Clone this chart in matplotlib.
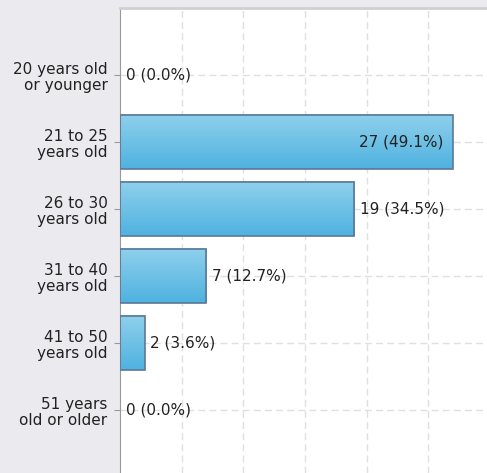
import numpy as np
import matplotlib.pyplot as plt
from matplotlib.colors import LinearSegmentedColormap

categories = ['20 years old\nor younger', '21 to 25\nyears old', '26 to 30\nyears old',
              '31 to 40\nyears old', '41 to 50\nyears old', '51 years\nold or older']
counts = [0, 27, 19, 7, 2, 0]
percents = [0.0, 49.1, 34.5, 12.7, 3.6, 0.0]

W, H = 487, 473
fig = plt.figure(figsize=(W / 100, H / 100), dpi=100)
fig.patch.set_facecolor('#ebebef')

# axes box in pixels: left 120, top 8, runs off right/bottom edge
ax = fig.add_axes([120 / W, 0, 1 - 120 / W, 1 - 8 / H])
ax.set_facecolor('white')

y = np.arange(len(categories))
widths = [1.2 if c > 0 else 0 for c in counts]
bars = ax.barh(y, counts, height=0.82, color='none', edgecolor='#5d7896',
               linewidth=widths, zorder=3)

# vertical gradient fill inside each bar
grad = LinearSegmentedColormap.from_list('bluegrad', ['#8fd0ec', '#4fb2e0'])
for b in bars:
    if b.get_width() <= 0:
        continue
    x0, y0 = b.get_x(), b.get_y()
    ax.imshow(np.linspace(0, 1, 64).reshape(-1, 1), cmap=grad, aspect='auto',
              extent=[x0, x0 + b.get_width(), y0 + b.get_height(), y0], zorder=2)

ax.set_xlim(0, 29.77)
ax.set_ylim(5.94, -1)

ax.set_xticks([5, 10, 15, 20, 25])
ax.set_yticks(y)
ax.set_yticklabels(categories, fontsize=11, color='#222222', linespacing=1.15)
ax.tick_params(axis='x', length=0, labelbottom=False)
ax.tick_params(axis='y', length=4, color='#999999', pad=5)
ax.grid(True, color='#e0e0e0', linestyle=(0, (5, 3)), linewidth=1, zorder=0)

for s in ['right', 'bottom']:
    ax.spines[s].set_visible(False)
ax.spines['left'].set_color('#999999')
ax.spines['top'].set_color('#cfcfd4')
ax.spines['top'].set_linewidth(2)

top = max(counts)
for yi, c, p in zip(y, counts, percents):
    txt = f'{c} ({p:.1f}%)'
    if c == top:
        ax.annotate(txt, (c, yi), xytext=(-7, 0), textcoords='offset points',
                    ha='right', va='center', fontsize=11, color='#222222', zorder=4)
    else:
        ax.annotate(txt, (c, yi), xytext=(4, 0), textcoords='offset points',
                    ha='left', va='center', fontsize=11, color='#222222', zorder=4)

fig.savefig('out.png', dpi=100)
